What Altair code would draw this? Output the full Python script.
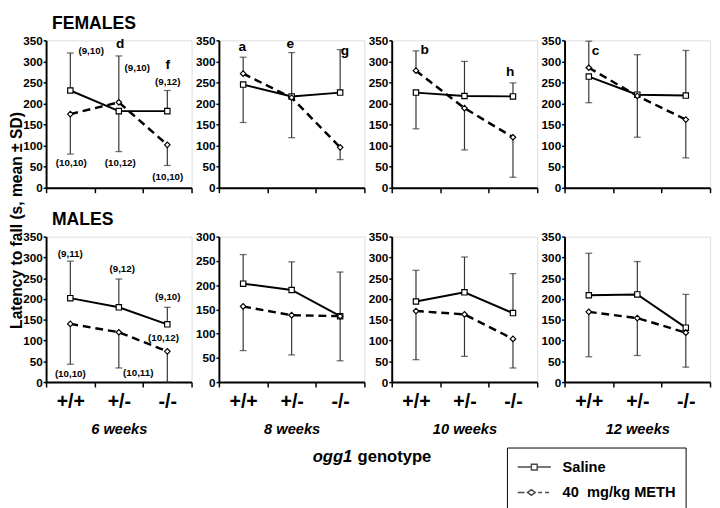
import altair as alt
import pandas as pd

FONT = "Liberation Sans"

genotypes = ["+/+", "+/-", "-/-"]
weeks = ["6 weeks", "8 weeks", "10 weeks", "12 weeks"]
series_names = ["Saline", "40 \u00a0mg/kg METH"]

# values per week (rows) and genotype (columns); *_end = end of the SD bar
f_saline_mean = [[231, 182, 182], [245, 217, 226], [226, 218, 217], [264, 221, 219]]
f_saline_end = [[320, 86, 231], [155, 321, 328], [140, 300, 249], [202, 316, 326]]
f_meth_mean = [[175, 203, 102], [271, 214, 96], [278, 189, 120], [285, 218, 162]]
f_meth_end = [[80, 313, 53], [310, 119, 67], [325, 90, 25], [348, 120, 71]]
m_saline_mean = [[202, 180, 139], [203, 190, 136], [194, 216, 166], [209, 211, 131]]
m_saline_end = [[291, 248, 180], [263, 248, 227], [269, 301, 261], [310, 290, 211]]
m_meth_mean = [[140, 120, 74], [156, 138, 136], [171, 163, 104], [169, 154, 119]]
m_meth_end = [[43, 34, 0], [65, 56, 44], [54, 62, 34], [61, 64, 36]]

y_max = [[350, 350, 350, 350], [350, 300, 350, 350]]

# significance letters (top row)
letter_text = ["d", "f", "a", "e", "g", "b", "h", "c"]
letter_col = [0, 0, 1, 1, 1, 2, 2, 3]
letter_x = [1.53, 2.51, 0.48, 1.47, 2.6, 0.68, 2.44, 0.64]
letter_y = [341, 291, 334, 341, 325, 327, 275, 325]

# group sizes (6 weeks panels)
count_text = ["(9,10)", "(9,10)", "(9,12)", "(10,10)", "(10,12)", "(10,10)",
              "(9,11)", "(9,12)", "(9,10)", "(10,12)", "(10,10)", "(10,11)"]
count_row = [0] * 6 + [1] * 6
count_x = [0.93, 1.88, 2.51, 0.52, 1.53, 2.51, 0.5, 1.57, 2.51, 2.42, 0.5, 1.9]
count_y = [325, 284, 252, 59, 59, 25, 308, 273, 205, 105, 19, 21]

W, H1, H2 = 149, 151, 149

# legend glyphs: line with marker (unit box is the left 18 px of a 34 px glyph)
saline_path = "M-1,0H0.56M1.22,0H2.78M0.56,-0.33H1.22V0.33H0.56Z"
meth_path = ("M-1,0H-0.22M0.12,0L0.56,-0.33L1.0,0L0.56,0.33Z"
             "M1.33,0H1.78M2.11,0H2.56")


def panel(r, c):
    sm = (f_saline_mean, m_saline_mean)[r][c]
    se = (f_saline_end, m_saline_end)[r][c]
    mm = (f_meth_mean, m_meth_mean)[r][c]
    me = (f_meth_end, m_meth_end)[r][c]
    rows = []
    for i, g in enumerate(genotypes):
        rows.append({"genotype": g, "series": "Saline", "mean": sm[i], "end": se[i]})
        rows.append({"genotype": g, "series": "METH", "mean": mm[i], "end": me[i]})
    df = pd.DataFrame(rows)

    ymax = y_max[r][c]
    yscale = alt.Scale(domain=[0, ymax], nice=False, zero=True)

    xaxis_kw = dict(
        tickBand="extent", ticks=True, tickSize=5, tickWidth=1.5, tickColor="black",
        domainColor="black", domainWidth=2, labelAngle=0, grid=False,
        labels=(r == 1),
        labelFont=FONT, labelFontSize=20, labelFontWeight="bold", labelColor="black",
        labelPadding=5,
        titleFont=FONT, titleFontSize=15, titleFontStyle="italic", titleFontWeight="bold",
        titleColor="black", titlePadding=11,
        title=(weeks[c] if r == 1 else None),
    )
    yaxis_kw = dict(
        values=list(range(0, ymax + 1, 50)), grid=False,
        tickSize=3, tickWidth=1.5, tickColor="black",
        domainColor="black", domainWidth=2,
        labelFont=FONT, labelFontSize=12, labelFontWeight="bold", labelColor="black",
        labelPadding=1, title=None,
    )
    if r == 0 and c == 0:
        yaxis_kw.update(title="Latency to fall (s, mean \u00b1 SD)", titleFont=FONT,
                        titleFontSize=16, titleFontWeight="bold", titleColor="black",
                        titleX=-22, titleY=184)

    xscale = alt.Scale(type="band", domain=genotypes, paddingInner=0, paddingOuter=0)
    xenc = alt.X("genotype:N", sort=genotypes, bandPosition=0.5, scale=xscale,
                 axis=alt.Axis(**xaxis_kw))
    yenc = alt.Y("mean:Q", scale=yscale, axis=alt.Axis(**yaxis_kw))
    base = alt.Chart(df)
    err = base.mark_rule(color="#333333", strokeWidth=1.2).encode(
        x=xenc, y=yenc, y2="end:Q")
    cap = base.mark_tick(color="#333333", thickness=1.3, size=7, orient="horizontal").encode(
        x=xenc, y=alt.Y("end:Q", scale=yscale, axis=alt.Axis(**yaxis_kw)))
    l_sal = base.transform_filter("datum.series == 'Saline'").mark_line(
        color="black", strokeWidth=2).encode(x=xenc, y=yenc)
    l_meth = base.transform_filter("datum.series == 'METH'").mark_line(
        color="black", strokeWidth=2.5, strokeDash=[8, 5]).encode(x=xenc, y=yenc)
    p_sal = base.transform_filter("datum.series == 'Saline'").mark_point(
        shape="square", filled=True, fill="white", stroke="black", strokeWidth=1.2,
        size=30, opacity=1).encode(x=xenc, y=yenc)
    p_meth = base.transform_filter("datum.series == 'METH'").mark_point(
        shape="diamond", filled=True, fill="white", stroke="black", strokeWidth=1.2,
        size=32, opacity=1).encode(x=xenc, y=yenc)

    main = alt.layer(err, cap, l_sal, l_meth, p_sal, p_meth)
    layers = [main]

    ax = alt.X("x:Q", scale=alt.Scale(domain=[0, 3], nice=False, zero=False), axis=None)
    ay = alt.Y("y:Q", scale=yscale, axis=alt.Axis(**yaxis_kw))
    if r == 0:
        ldf = pd.DataFrame({"text": letter_text, "col": letter_col, "x": letter_x, "y": letter_y})
        ldf = ldf[ldf["col"] == c]
        if len(ldf):
            layers.append(alt.Chart(ldf).mark_text(
                font=FONT, fontSize=14, fontWeight="bold", color="black").encode(
                x=ax, y=ay, text="text:N"))
    if c == 0:
        cdf = pd.DataFrame({"text": count_text, "row": count_row, "x": count_x, "y": count_y})
        cdf = cdf[cdf["row"] == r]
        layers.append(alt.Chart(cdf).mark_text(
            font=FONT, fontSize=10, fontWeight="bold", color="black").encode(
            x=ax, y=ay, text="text:N"))

    if r == 1 and c == 3:
        leg_df = pd.DataFrame({"series": series_names})
        legend_layer = alt.Chart(leg_df).transform_filter("false").mark_point(
            color="black", filled=False, strokeWidth=1.5).encode(
            x=ax,
            shape=alt.Shape("series:N", sort=series_names,
                            scale=alt.Scale(domain=series_names, range=[saline_path, meth_path]),
                            legend=alt.Legend(
                                title=None, orient="none", legendX=472, legendY=417,
                                labelFont=FONT, labelFontSize=15, labelFontWeight="bold",
                                labelColor="black", symbolSize=324, symbolStrokeWidth=1.5,
                                symbolStrokeColor="black", strokeColor="black",
                                padding=10, rowPadding=8, labelOffset=27, labelLimit=300)))
        layers.append(legend_layer)

    props = dict(width=W, height=(H1 if r == 0 else H2))
    if r == 0 and c == 0:
        props["title"] = alt.Title("FEMALES", anchor="start", frame="group", dx=6,
                                   fontSize=18, fontWeight="bold", font=FONT, color="black",
                                   offset=2)
    if r == 1 and c == 0:
        props["title"] = alt.Title("MALES", anchor="start", frame="group", dx=6,
                                   fontSize=18, fontWeight="bold", font=FONT, color="black",
                                   offset=2)
    if r == 1 and c == 1:
        props["title"] = alt.Title("genotype", orient="bottom", anchor="start", frame="group",
                                   dx=142, fontSize=17, fontWeight="bold", font=FONT,
                                   color="black", offset=13)
    if r == 1 and c == 2:
        props["title"] = alt.Title("ogg1", orient="bottom", anchor="start", frame="group",
                                   dx=-81, fontSize=17, fontWeight="bold", fontStyle="italic",
                                   font=FONT, color="black", offset=13)
    if len(layers) == 1:
        return main.properties(**props)
    return alt.layer(*layers).resolve_scale(x="independent").properties(**props)


panels = [panel(r, c) for r in range(2) for c in range(4)]
chart = alt.concat(*panels, columns=4, spacing={"row": 50, "column": 28},
                   bounds="flush", padding=0).configure_view(
    stroke=None).configure(background="white")

chart.save("out.html", embed_options={"renderer": "svg", "actions": False})
